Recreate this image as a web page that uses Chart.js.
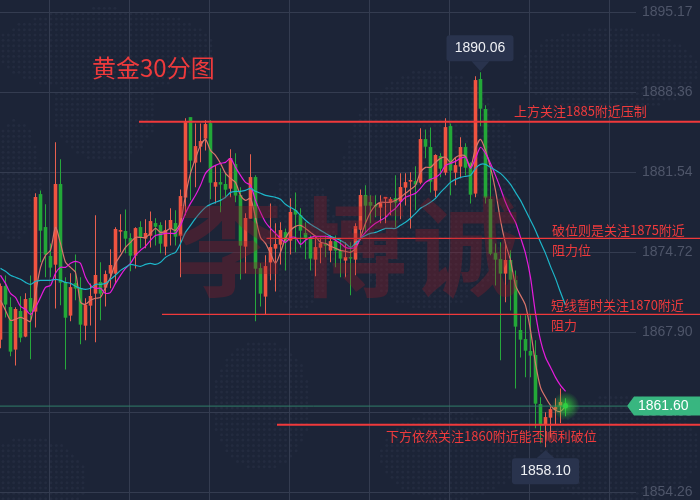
<!DOCTYPE html>
<html>
<head>
<meta charset="utf-8">
<style>
  html, body { margin: 0; padding: 0; background: #1c2437; }
  canvas { display: block; }
</style>
<script src="https://cdn.jsdelivr.net/npm/chart.js@4/dist/chart.umd.min.js"></script>
</head>
<body>
<canvas id="goldChart" width="700" height="500"></canvas>
<script>
const opens = [1867.29,1871.81,1870.02,1866.44,1869.68,1867.55,1870.79,1869.68,1879.65,1876.84,
  1874.37,1873.68,1880.51,1872.15,1869.34,1872.06,1871.64,1868.48,1870.19,1871.21,
  1872.15,1871.72,1872.92,1872.92,1876.50,1876.50,1875.90,1874.45,1876.84,1875.90,
  1876.15,1877.18,1877.01,1875.22,1876.75,1877.18,1876.15,1879.40,1886.21,1882.38,
  1883.74,1884.43,1885.70,1880.33,1880.67,1880.51,1880.16,1882.21,1879.57,1875.22,
  1877.61,1881.10,1873.34,1870.96,1873.86,1875.05,1875.39,1876.41,1875.73,1878.29,
  1877.86,1876.33,1875.98,1874.11,1875.13,1875.39,1874.88,1875.64,1874.88,1874.03,
  1874.28,1874.11,1876.67,1879.57,1878.97,1878.71,1878.54,1879.31,1878.97,1879.31,
  1879.06,1880.25,1880.76,1880.76,1880.67,1884.34,1883.66,1879.99,1882.89,1881.53,
  1885.45,1881.53,1882.04,1883.66,1882.29,1879.74,1889.46,1886.90,1879.23,1874.62,
  1874.11,1872.92,1874.03,1872.32,1868.06,1867.29,1866.27,1865.93,1861.75,1860.05,
  1860.64,1861.32,1861.66,1861.83];
const closes = [1871.81,1870.28,1866.27,1869.85,1867.46,1870.70,1869.68,1879.40,1876.58,1874.53,
  1873.43,1880.51,1872.15,1869.16,1871.72,1871.64,1868.57,1870.19,1870.96,1872.75,
  1871.21,1872.83,1873.60,1876.67,1876.58,1875.90,1874.45,1876.75,1875.98,1876.33,
  1877.35,1876.92,1875.47,1876.58,1877.44,1876.07,1879.48,1885.79,1882.55,1883.74,
  1884.17,1885.62,1880.67,1880.67,1880.51,1880.07,1882.72,1879.57,1875.30,1877.61,
  1881.10,1873.34,1871.21,1873.51,1875.13,1875.39,1876.58,1875.64,1878.12,1877.95,
  1876.58,1875.98,1874.20,1875.13,1875.47,1875.30,1875.64,1874.88,1874.20,1874.28,
  1874.20,1876.92,1879.57,1878.71,1878.71,1878.63,1878.97,1879.40,1879.23,1878.97,
  1880.25,1880.67,1880.85,1880.51,1884.34,1883.74,1880.76,1882.98,1881.87,1885.36,
  1881.70,1882.12,1883.66,1881.95,1879.65,1889.37,1886.98,1879.40,1874.62,1874.11,
  1872.92,1874.03,1872.40,1868.40,1867.29,1866.35,1865.93,1861.83,1860.05,1860.64,
  1861.32,1861.49,1861.92,1861.60];
const highs = [1872.06,1872.74,1870.87,1870.02,1870.96,1871.21,1872.74,1879.74,1879.99,1878.80,
  1875.47,1884.09,1882.64,1872.58,1872.92,1874.53,1872.58,1870.79,1872.06,1877.86,
  1873.86,1873.17,1874.97,1876.84,1877.95,1878.37,1876.33,1876.84,1877.35,1877.52,
  1878.20,1877.61,1877.27,1877.44,1878.46,1878.29,1880.07,1886.13,1886.21,1885.70,
  1885.70,1885.96,1885.96,1882.12,1881.87,1881.44,1883.49,1883.15,1880.25,1878.03,
  1883.06,1881.27,1873.77,1874.45,1878.88,1877.18,1877.27,1876.75,1879.31,1879.82,
  1878.46,1877.27,1876.15,1876.15,1875.98,1876.15,1876.15,1876.15,1875.73,1875.56,
  1875.56,1877.18,1880.07,1880.42,1879.57,1879.57,1879.57,1879.40,1879.40,1881.27,
  1881.44,1881.44,1881.53,1882.04,1885.28,1885.19,1885.36,1883.06,1883.15,1886.13,
  1885.70,1882.80,1884.51,1884.00,1882.38,1889.71,1890.06,1887.24,1881.95,1875.47,
  1875.56,1875.56,1874.88,1873.17,1869.34,1869.34,1869.34,1867.21,1862.35,1861.07,
  1861.58,1862.26,1863.11,1862.26];
const lows = [1866.53,1869.16,1865.84,1865.07,1867.04,1867.46,1865.59,1868.31,1873.86,1872.58,
  1872.58,1869.93,1870.19,1864.73,1868.83,1870.62,1866.87,1867.21,1868.48,1867.04,
  1868.91,1870.10,1871.64,1872.06,1874.71,1874.62,1873.09,1873.34,1875.05,1875.05,
  1875.13,1875.30,1874.62,1874.45,1875.30,1875.30,1872.58,1877.86,1879.14,1880.25,
  1882.38,1883.40,1879.23,1878.88,1878.12,1879.31,1879.40,1878.97,1872.40,1872.92,
  1877.61,1868.83,1870.10,1869.42,1872.32,1871.38,1873.68,1873.17,1874.53,1874.71,
  1875.13,1874.11,1873.17,1872.66,1873.77,1874.28,1873.86,1873.43,1872.58,1872.58,
  1871.04,1872.75,1875.73,1876.33,1877.18,1877.69,1877.18,1877.18,1877.86,1876.84,
  1877.52,1878.71,1876.75,1878.29,1880.51,1882.72,1879.82,1879.40,1881.10,1881.27,
  1879.57,1880.42,1881.02,1881.27,1878.88,1879.40,1885.45,1878.88,1874.45,1871.89,
  1865.50,1870.45,1869.76,1863.11,1865.75,1864.05,1864.05,1859.71,1858.43,1858.10,
  1858.93,1860.05,1860.14,1860.73];

const maFast = [1870.62,1869.76,1868.91,1869.00,1869.17,1869.00,1868.82,1871.21,1873.43,1874.45,
  1874.88,1876.84,1875.47,1873.86,1873.43,1873.00,1870.45,1870.28,1870.62,1870.79,
  1870.87,1871.72,1872.58,1873.77,1874.45,1875.13,1875.56,1875.98,1875.98,1875.98,
  1876.33,1876.75,1876.41,1876.50,1876.75,1876.58,1877.27,1879.57,1881.44,1882.72,
  1883.83,1884.34,1883.40,1882.98,1882.29,1881.44,1881.02,1880.67,1879.57,1879.14,
  1879.31,1877.69,1875.98,1875.47,1874.62,1873.77,1874.71,1875.90,1876.58,1876.92,
  1877.01,1876.75,1876.41,1876.07,1875.56,1875.47,1875.22,1875.05,1874.88,1874.79,
  1874.71,1875.05,1875.98,1877.18,1878.12,1878.71,1878.97,1878.97,1878.97,1879.14,
  1879.40,1879.74,1880.07,1880.42,1881.53,1881.95,1881.95,1882.38,1882.72,1882.80,
  1882.38,1882.80,1882.98,1882.89,1881.95,1883.57,1884.34,1883.40,1881.95,1879.99,
  1877.44,1875.47,1874.03,1871.89,1871.04,1870.19,1868.06,1865.25,1863.20,1862.35,
  1861.66,1861.24,1861.15,1861.58];
const maMid = [1872.75,1872.06,1871.21,1870.87,1870.10,1869.85,1869.42,1870.02,1870.87,1871.72,
  1871.89,1872.92,1873.43,1873.43,1873.77,1873.94,1873.77,1872.58,1871.89,1871.64,
  1871.64,1871.21,1871.30,1872.06,1872.75,1873.34,1873.77,1874.45,1874.88,1875.22,
  1875.73,1876.15,1876.24,1876.33,1876.33,1876.33,1877.01,1878.03,1878.88,1879.57,
  1880.42,1881.44,1881.87,1882.12,1882.29,1882.38,1882.72,1881.95,1881.27,1880.67,
  1880.42,1879.14,1878.12,1877.27,1876.75,1876.33,1875.90,1875.56,1875.98,1875.98,
  1875.39,1875.73,1875.98,1876.07,1876.07,1876.07,1875.98,1875.73,1875.47,1875.13,
  1875.05,1875.13,1875.90,1876.41,1876.84,1877.18,1877.44,1877.69,1878.12,1878.46,
  1878.97,1879.40,1879.57,1879.74,1880.16,1880.67,1880.93,1881.10,1881.44,1882.12,
  1882.29,1882.46,1882.72,1882.80,1881.87,1882.72,1883.66,1883.15,1882.29,1881.27,
  1880.16,1878.97,1878.03,1877.27,1875.98,1874.62,1872.58,1869.51,1867.21,1865.76,
  1864.91,1864.05,1863.37,1862.86];
const maSlow = [1873.34,1873.09,1872.75,1872.58,1872.41,1872.15,1871.98,1872.24,1872.32,1872.32,
  1872.32,1872.41,1872.32,1872.15,1872.06,1871.81,1871.64,1871.55,1871.64,1871.98,
  1871.98,1872.06,1872.41,1872.75,1873.17,1873.43,1873.68,1873.60,1873.51,1873.68,
  1873.77,1873.68,1873.86,1874.28,1874.53,1874.71,1875.47,1876.41,1877.01,1877.61,
  1878.12,1878.54,1878.80,1878.97,1879.14,1879.40,1879.82,1879.91,1879.91,1879.99,
  1880.16,1879.91,1879.74,1879.57,1879.48,1879.40,1879.23,1878.80,1878.54,1878.29,
  1877.86,1877.44,1877.10,1876.84,1876.58,1876.33,1876.07,1875.90,1875.73,1875.47,
  1875.13,1875.47,1875.90,1876.15,1876.33,1876.41,1876.58,1876.75,1876.75,1876.75,
  1877.01,1877.27,1877.61,1878.03,1878.46,1878.71,1878.97,1879.31,1879.82,1880.25,
  1880.67,1880.93,1881.10,1881.19,1881.27,1881.87,1882.21,1882.21,1881.95,1881.70,
  1881.44,1881.02,1880.51,1879.82,1879.14,1878.29,1877.44,1876.58,1875.56,1874.62,
  1873.51,1872.49,1871.30,1870.19];

const yTicks = [1895.17, 1888.36, 1881.54, 1874.72, 1867.90, 1861.08, 1854.26];
const xGridTicks = [9.7, 25.7, 41.7, 57.7, 73.7, 89.7, 105.7, 121.7];
const levelPrices = [1885.85, 1875.90, 1869.42, 1860.01];
const levelStarts = [27.7, 53.2, 32.3, 55.3];
const lastPrice = 1861.60;

const notes = [
  { text: '黄金30分图', x: 92, y: 68, size: 24 },
  { text: '上方关注1885附近压制', x: 514, y: 111.5, size: 13 },
  { text: '破位则是关注1875附近', x: 552, y: 230.5, size: 13 },
  { text: '阻力位', x: 552, y: 250.5, size: 13 },
  { text: '短线暂时关注1870附近', x: 551, y: 305.5, size: 13 },
  { text: '阻力', x: 551, y: 325.5, size: 13 },
  { text: '下方依然关注1860附近能否顺利破位', x: 386, y: 436.5, size: 13 }
];

const RED = '#f05340';
const GREEN = '#23a838';
const candleColors = opens.map((o, i) => closes[i] >= o ? RED : GREEN);
const wickColors = opens.map((o, i) => closes[i] >= o ? '#e8604f' : '#27a83c');

function maDataset(values, color) {
  return {
    type: 'line', data: values.map((v, i) => ({ x: i, y: v })),
    borderColor: color, borderWidth: 1.2, pointRadius: 0, tension: 0.25, order: 3
  };
}

const levelDatasets = levelPrices.map((p, k) => ({
  type: 'line',
  data: [{ x: levelStarts[k], y: p }, { x: 139.9, y: p }],
  borderColor: '#f0393b', borderWidth: k === 0 || k === 3 ? 2 : 1.4,
  pointRadius: 0, clip: false, order: 1
}));

// map dots behind the grid
const dotPatches = [[105, 50, 110, 42], [105, 110, 52, 52], [15, 180, 26, 60], [30, 480, 56, 42],
  [262, 405, 50, 65], [300, 240, 36, 70], [430, 190, 90, 120], [610, 70, 90, 42], [620, 450, 80, 55], [450, 455, 70, 45]];

const backdrop = {
  id: 'backdrop',
  beforeDraw(chart) {
    const c = chart.ctx;
    c.save();
    c.fillStyle = '#1c2437';
    c.fillRect(0, 0, 700, 500);
    c.fillStyle = '#232b3f';
    for (let y = 3; y < 500; y += 5.33) {
      for (let x = 3; x < 700; x += 5.33) {
        const hit = dotPatches.some(d => ((x - d[0]) / d[2]) ** 2 + ((y - d[1]) / d[3]) ** 2 < 1);
        if (hit) {
          c.beginPath();
          c.arc(x, y, 1.5, 0, Math.PI * 2);
          c.fill();
        }
      }
    }
    c.restore();
  }
};

function drawTip(c, label, cx, top, bottom, tipX, tipY, baseY) {
  c.fillStyle = '#29334d';
  c.beginPath();
  c.roundRect(cx - 33.5, top, 67, bottom - top, 3);
  c.fill();
  c.beginPath();
  c.moveTo(tipX - 9, baseY);
  c.lineTo(tipX, tipY);
  c.lineTo(tipX + 9, baseY);
  c.closePath();
  c.fill();
  c.fillStyle = '#eef0f4';
  c.font = '14px "Liberation Sans"';
  c.textAlign = 'center';
  c.textBaseline = 'middle';
  c.fillText(label, cx, (top + bottom) / 2);
}

const overlay = {
  id: 'overlay',
  afterDatasetsDraw(chart) {
    const c = chart.ctx;
    c.save();
    c.fillStyle = 'rgba(150, 28, 40, 0.32)';
    c.font = 'bold 108px "Noto Sans CJK SC"';
    c.textAlign = 'center';
    c.textBaseline = 'middle';
    c.fillText('李', 229, 247);
    c.fillText('博', 353, 247);
    c.fillText('诚', 466, 247);
    c.restore();
  },
  afterDraw(chart) {
    const c = chart.ctx;
    const xs = chart.scales.x;
    const ys = chart.scales.y;
    c.save();

    // glow on the last candle
    const gx = xs.getPixelForValue(opens.length - 1);
    const gy = ys.getPixelForValue(lastPrice);
    const glow = c.createRadialGradient(gx, gy, 1, gx, gy, 14);
    glow.addColorStop(0, 'rgba(50, 220, 60, 0.75)');
    glow.addColorStop(1, 'rgba(50, 220, 60, 0)');
    c.fillStyle = glow;
    c.beginPath();
    c.arc(gx, gy, 14, 0, Math.PI * 2);
    c.fill();
    c.fillStyle = '#2fd044';
    c.beginPath();
    c.arc(gx, gy, 2.5, 0, Math.PI * 2);
    c.fill();

    notes.forEach(n => {
      c.fillStyle = '#ee3a3c';
      c.font = n.size + 'px "Noto Sans CJK SC"';
      c.textAlign = 'left';
      c.textBaseline = 'middle';
      c.fillText(n.text, n.x, n.y);
    });

    // highest and lowest price tips
    const hi = Math.max(...highs);
    const lo = Math.min(...lows);
    const hx = xs.getPixelForValue(highs.indexOf(hi));
    const hy = ys.getPixelForValue(hi);
    drawTip(c, hi.toFixed(2), hx - 0.5, hy - 37, hy - 11, hx, hy - 1, hy - 11);
    const lx = xs.getPixelForValue(lows.indexOf(lo));
    const ly = ys.getPixelForValue(lo);
    drawTip(c, lo.toFixed(2), lx, ly + 11, ly + 37, lx, ly + 3, ly + 11);

    // last price tag on the right
    c.fillStyle = '#38b680';
    c.beginPath();
    c.moveTo(627, gy);
    c.lineTo(634, gy - 9.5);
    c.lineTo(700, gy - 9.5);
    c.lineTo(700, gy + 9.5);
    c.lineTo(634, gy + 9.5);
    c.closePath();
    c.fill();
    c.fillStyle = '#ffffff';
    c.font = '14px "Liberation Sans"';
    c.textAlign = 'left';
    c.textBaseline = 'middle';
    c.fillText(lastPrice.toFixed(2), 638, gy);
    c.restore();
  }
};

new Chart(document.getElementById('goldChart'), {
  type: 'bar',
  data: {
    datasets: [
      {
        data: opens.map((o, i) => ({ x: i, y: [lows[i], highs[i]] })),
        backgroundColor: wickColors, barThickness: 1, grouped: false, order: 6,
        borderWidth: 0, borderSkipped: false, inflateAmount: 0
      },
      {
        data: opens.map((o, i) => ({ x: i, y: [o, closes[i]] })),
        backgroundColor: candleColors, barThickness: 3, grouped: false, order: 5,
        borderWidth: 0, borderSkipped: false, inflateAmount: 0.3
      },
      maDataset(maSlow, '#1db6c9'),
      maDataset(maMid, '#e61bdc'),
      maDataset(maFast, '#d9756b'),
      {
        type: 'line',
        data: [{ x: -0.1, y: lastPrice }, { x: 125.3, y: lastPrice }],
        borderColor: '#2f7f69', borderWidth: 1, pointRadius: 0, order: 2
      },
      ...levelDatasets
    ]
  },
  options: {
    responsive: false,
    animation: false,
    layout: { padding: 0 },
    plugins: { legend: { display: false }, tooltip: { enabled: false } },
    scales: {
      x: {
        type: 'linear', min: -0.1, max: 127.1, offset: false,
        grid: { color: '#343c50', drawTicks: false, offset: false },
        border: { display: false },
        ticks: { display: false },
        afterBuildTicks(axis) { axis.ticks = xGridTicks.map(v => ({ value: v })); },
        afterFit(axis) { axis.height = 0; axis.paddingLeft = 0; axis.paddingRight = 0; }
      },
      y: {
        position: 'right', min: 1853.595, max: 1896.22,
        grid: { color: '#343c50', drawTicks: false },
        border: { display: false },
        ticks: {
          color: '#4e5569', padding: 6, autoSkip: false,
          font: { family: '"Liberation Sans"', size: 14 },
          callback: v => v.toFixed(2)
        },
        afterBuildTicks(axis) { axis.ticks = yTicks.map(v => ({ value: v })); },
        afterFit(axis) { axis.width = 64; axis.paddingTop = 0; axis.paddingBottom = 0; }
      }
    }
  },
  plugins: [backdrop, overlay]
});
</script>
</body>
</html>
